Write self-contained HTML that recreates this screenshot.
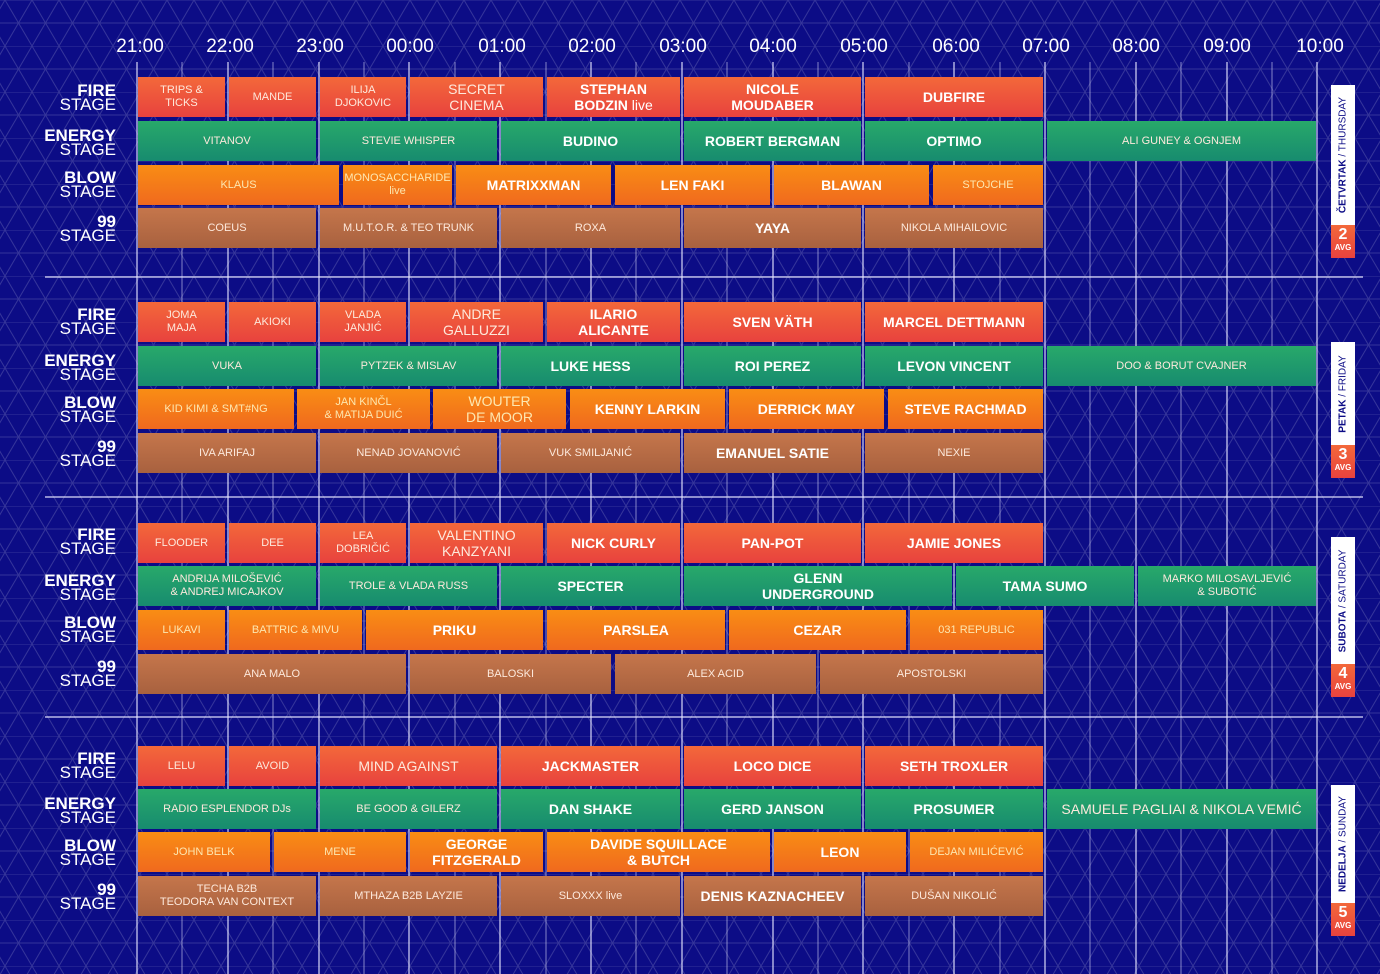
<!DOCTYPE html>
<html><head><meta charset="utf-8"><style>
body{margin:0;width:1380px;height:974px;overflow:hidden;background:#0c0c86;font-family:"Liberation Sans",sans-serif;position:relative}
svg.bg{position:absolute;left:0;top:0}
.t{position:absolute;top:36px;color:#fff;font-size:19px;width:70px;margin-left:-35px;text-align:center}
.s{position:absolute;left:0;width:116px;text-align:right;color:#fff;font-size:17px;line-height:14px}
.s b{display:block}
.b{position:absolute;height:40px;display:flex;align-items:center;justify-content:center;text-align:center;color:#fde9dc;font-size:11px;line-height:13px;box-sizing:border-box}
.f{background:linear-gradient(#f3683a,#e8423e)}
.e{background:linear-gradient(#28a96a,#178b6f)}
.w{background:linear-gradient(#f98d14,#f0691e);color:#fde7b0}
.n{background:linear-gradient(#c5764b,#a8613f)}
.B{font-weight:bold;font-size:14px;color:#fff;line-height:16px}
.M{font-size:14px;line-height:16px}
.d{position:absolute;left:1331px;width:24px;background:#fff}
.d span{position:absolute;left:50%;top:50%;transform:translate(-50%,-50%) rotate(-90deg);white-space:nowrap;font-size:10px;color:#0c0c86}
.r{position:absolute;left:1331px;width:24px;height:33px;background:linear-gradient(#f3683a,#e8423e);color:#fff;text-align:center;font-weight:bold;font-size:16px;line-height:16px;padding-top:2px;box-sizing:border-box}
.r i{display:block;font-style:normal;font-size:8px;line-height:9px}
</style></head><body>
<svg class="bg" width="1380" height="974">
<defs><pattern id="p" width="27" height="46" patternUnits="userSpaceOnUse" x="5" y="0">
<g stroke="rgba(255,255,255,0.17)" stroke-width="1" fill="none"><path d="M0 0H27M0 23H27M0 0L27 46M27 0L0 46"/></g></pattern></defs>
<rect width="1380" height="974" fill="url(#p)"/>
<g stroke="rgba(230,230,255,0.75)" stroke-width="1.5">
<line x1="137" y1="62" x2="137" y2="974"/><line x1="228" y1="62" x2="228" y2="974"/><line x1="319" y1="62" x2="319" y2="974"/><line x1="409" y1="62" x2="409" y2="974"/><line x1="500" y1="62" x2="500" y2="974"/><line x1="591" y1="62" x2="591" y2="974"/><line x1="682" y1="62" x2="682" y2="974"/><line x1="773" y1="62" x2="773" y2="974"/><line x1="863" y1="62" x2="863" y2="974"/><line x1="954" y1="62" x2="954" y2="974"/><line x1="1045" y1="62" x2="1045" y2="974"/><line x1="1136" y1="62" x2="1136" y2="974"/><line x1="1227" y1="62" x2="1227" y2="974"/><line x1="1317" y1="62" x2="1317" y2="974"/>
</g>
<g stroke="rgba(230,230,255,0.55)" stroke-width="1">
<line x1="182" y1="62" x2="182" y2="974"/><line x1="273" y1="62" x2="273" y2="974"/><line x1="364" y1="62" x2="364" y2="974"/><line x1="455" y1="62" x2="455" y2="974"/><line x1="546" y1="62" x2="546" y2="974"/><line x1="636" y1="62" x2="636" y2="974"/><line x1="727" y1="62" x2="727" y2="974"/><line x1="818" y1="62" x2="818" y2="974"/><line x1="909" y1="62" x2="909" y2="974"/><line x1="1000" y1="62" x2="1000" y2="974"/><line x1="1090" y1="62" x2="1090" y2="974"/><line x1="1181" y1="62" x2="1181" y2="974"/><line x1="1272" y1="62" x2="1272" y2="974"/>
</g>
<g stroke="rgba(230,230,255,0.8)" stroke-width="1.5"><line x1="45" y1="277" x2="1363" y2="277"/><line x1="45" y1="497" x2="1363" y2="497"/><line x1="45" y1="717" x2="1363" y2="717"/></g>
</svg>
<div class="t" style="left:140px">21:00</div><div class="t" style="left:230px">22:00</div><div class="t" style="left:320px">23:00</div><div class="t" style="left:410px">00:00</div><div class="t" style="left:502px">01:00</div><div class="t" style="left:592px">02:00</div><div class="t" style="left:683px">03:00</div><div class="t" style="left:773px">04:00</div><div class="t" style="left:864px">05:00</div><div class="t" style="left:956px">06:00</div><div class="t" style="left:1046px">07:00</div><div class="t" style="left:1136px">08:00</div><div class="t" style="left:1227px">09:00</div><div class="t" style="left:1320px">10:00</div>

<div class="s" style="top:84px"><b>FIRE</b>STAGE</div><div class="s" style="top:129px"><b>ENERGY</b>STAGE</div><div class="s" style="top:171px"><b>BLOW</b>STAGE</div><div class="s" style="top:215px"><b>99</b>STAGE</div>
<div class="s" style="top:308px"><b>FIRE</b>STAGE</div><div class="s" style="top:354px"><b>ENERGY</b>STAGE</div><div class="s" style="top:396px"><b>BLOW</b>STAGE</div><div class="s" style="top:440px"><b>99</b>STAGE</div>
<div class="s" style="top:528px"><b>FIRE</b>STAGE</div><div class="s" style="top:574px"><b>ENERGY</b>STAGE</div><div class="s" style="top:616px"><b>BLOW</b>STAGE</div><div class="s" style="top:660px"><b>99</b>STAGE</div>
<div class="s" style="top:752px"><b>FIRE</b>STAGE</div><div class="s" style="top:797px"><b>ENERGY</b>STAGE</div><div class="s" style="top:839px"><b>BLOW</b>STAGE</div><div class="s" style="top:883px"><b>99</b>STAGE</div>

<!-- Day 1 -->
<div class="b f" style="top:77px;left:138px;width:87px">TRIPS &amp;<br>TICKS</div>
<div class="b f" style="top:77px;left:229px;width:87px">MANDE</div>
<div class="b f" style="top:77px;left:320px;width:86px">ILIJA<br>DJOKOVIC</div>
<div class="b f M" style="top:77px;left:410px;width:133px">SECRET<br>CINEMA</div>
<div class="b f B" style="top:77px;left:547px;width:133px"><div>STEPHAN<br>BODZIN <span style="font-weight:normal">live</span></div></div>
<div class="b f B" style="top:77px;left:684px;width:177px">NICOLE<br>MOUDABER</div>
<div class="b f B" style="top:77px;left:865px;width:178px">DUBFIRE</div>
<div class="b e" style="top:121px;left:138px;width:178px">VITANOV</div>
<div class="b e" style="top:121px;left:320px;width:177px">STEVIE WHISPER</div>
<div class="b e B" style="top:121px;left:501px;width:179px">BUDINO</div>
<div class="b e B" style="top:121px;left:684px;width:177px">ROBERT BERGMAN</div>
<div class="b e B" style="top:121px;left:865px;width:178px">OPTIMO</div>
<div class="b e" style="top:121px;left:1047px;width:269px">ALI GUNEY &amp; OGNJEM</div>
<div class="b w" style="top:165px;left:138px;width:201px">KLAUS</div>
<div class="b w" style="top:165px;left:343px;width:109px">MONOSACCHARIDE<br>live</div>
<div class="b w B" style="top:165px;left:456px;width:155px">MATRIXXMAN</div>
<div class="b w B" style="top:165px;left:615px;width:155px">LEN FAKI</div>
<div class="b w B" style="top:165px;left:774px;width:155px">BLAWAN</div>
<div class="b w" style="top:165px;left:933px;width:110px">STOJCHE</div>
<div class="b n" style="top:208px;left:138px;width:178px">COEUS</div>
<div class="b n" style="top:208px;left:320px;width:177px">M.U.T.O.R. &amp; TEO TRUNK</div>
<div class="b n" style="top:208px;left:501px;width:179px">ROXA</div>
<div class="b n B" style="top:208px;left:684px;width:177px">YAYA</div>
<div class="b n" style="top:208px;left:865px;width:178px">NIKOLA MIHAILOVIC</div>

<!-- Day 2 -->
<div class="b f" style="top:302px;left:138px;width:87px">JOMA<br>MAJA</div>
<div class="b f" style="top:302px;left:229px;width:87px">AKIOKI</div>
<div class="b f" style="top:302px;left:320px;width:86px">VLADA<br>JANJIĆ</div>
<div class="b f M" style="top:302px;left:410px;width:133px">ANDRE<br>GALLUZZI</div>
<div class="b f B" style="top:302px;left:547px;width:133px">ILARIO<br>ALICANTE</div>
<div class="b f B" style="top:302px;left:684px;width:177px">SVEN VÄTH</div>
<div class="b f B" style="top:302px;left:865px;width:178px">MARCEL DETTMANN</div>
<div class="b e" style="top:346px;left:138px;width:178px">VUKA</div>
<div class="b e" style="top:346px;left:320px;width:177px">PYTZEK &amp; MISLAV</div>
<div class="b e B" style="top:346px;left:501px;width:179px">LUKE HESS</div>
<div class="b e B" style="top:346px;left:684px;width:177px">ROI PEREZ</div>
<div class="b e B" style="top:346px;left:865px;width:178px">LEVON VINCENT</div>
<div class="b e" style="top:346px;left:1047px;width:269px">DOO &amp; BORUT CVAJNER</div>
<div class="b w" style="top:389px;left:138px;width:156px">KID KIMI &amp; SMT#NG</div>
<div class="b w" style="top:389px;left:297px;width:133px">JAN KINČL<br>&amp; MATIJA DUIĆ</div>
<div class="b w M" style="top:389px;left:433px;width:133px">WOUTER<br>DE MOOR</div>
<div class="b w B" style="top:389px;left:570px;width:155px">KENNY LARKIN</div>
<div class="b w B" style="top:389px;left:729px;width:155px">DERRICK MAY</div>
<div class="b w B" style="top:389px;left:888px;width:155px">STEVE RACHMAD</div>
<div class="b n" style="top:433px;left:138px;width:178px">IVA ARIFAJ</div>
<div class="b n" style="top:433px;left:320px;width:177px">NENAD JOVANOVIĆ</div>
<div class="b n" style="top:433px;left:501px;width:179px">VUK SMILJANIĆ</div>
<div class="b n B" style="top:433px;left:684px;width:177px">EMANUEL SATIE</div>
<div class="b n" style="top:433px;left:865px;width:178px">NEXIE</div>

<!-- Day 3 -->
<div class="b f" style="top:523px;left:138px;width:87px">FLOODER</div>
<div class="b f" style="top:523px;left:229px;width:87px">DEE</div>
<div class="b f" style="top:523px;left:320px;width:86px">LEA<br>DOBRIČIĆ</div>
<div class="b f M" style="top:523px;left:410px;width:133px">VALENTINO<br>KANZYANI</div>
<div class="b f B" style="top:523px;left:547px;width:133px">NICK CURLY</div>
<div class="b f B" style="top:523px;left:684px;width:177px">PAN-POT</div>
<div class="b f B" style="top:523px;left:865px;width:178px">JAMIE JONES</div>
<div class="b e" style="top:566px;left:138px;width:178px">ANDRIJA MILOŠEVIĆ<br>&amp; ANDREJ MICAJKOV</div>
<div class="b e" style="top:566px;left:320px;width:177px">TROLE &amp; VLADA RUSS</div>
<div class="b e B" style="top:566px;left:501px;width:179px">SPECTER</div>
<div class="b e B" style="top:566px;left:684px;width:268px">GLENN<br>UNDERGROUND</div>
<div class="b e B" style="top:566px;left:956px;width:178px">TAMA SUMO</div>
<div class="b e" style="top:566px;left:1138px;width:178px">MARKO MILOSAVLJEVIĆ<br>&amp; SUBOTIĆ</div>
<div class="b w" style="top:610px;left:138px;width:87px">LUKAVI</div>
<div class="b w" style="top:610px;left:229px;width:133px">BATTRIC &amp; MIVU</div>
<div class="b w B" style="top:610px;left:366px;width:177px">PRIKU</div>
<div class="b w B" style="top:610px;left:547px;width:178px">PARSLEA</div>
<div class="b w B" style="top:610px;left:729px;width:177px">CEZAR</div>
<div class="b w" style="top:610px;left:910px;width:133px">031 REPUBLIC</div>
<div class="b n" style="top:654px;left:138px;width:268px">ANA MALO</div>
<div class="b n" style="top:654px;left:410px;width:201px">BALOSKI</div>
<div class="b n" style="top:654px;left:615px;width:201px">ALEX ACID</div>
<div class="b n" style="top:654px;left:820px;width:223px">APOSTOLSKI</div>

<!-- Day 4 -->
<div class="b f" style="top:746px;left:138px;width:87px">LELU</div>
<div class="b f" style="top:746px;left:229px;width:87px">AVOID</div>
<div class="b f M" style="top:746px;left:320px;width:177px">MIND AGAINST</div>
<div class="b f B" style="top:746px;left:501px;width:179px">JACKMASTER</div>
<div class="b f B" style="top:746px;left:684px;width:177px">LOCO DICE</div>
<div class="b f B" style="top:746px;left:865px;width:178px">SETH TROXLER</div>
<div class="b e" style="top:789px;left:138px;width:178px">RADIO ESPLENDOR DJs</div>
<div class="b e" style="top:789px;left:320px;width:177px">BE GOOD &amp; GILERZ</div>
<div class="b e B" style="top:789px;left:501px;width:179px">DAN SHAKE</div>
<div class="b e B" style="top:789px;left:684px;width:177px">GERD JANSON</div>
<div class="b e B" style="top:789px;left:865px;width:178px">PROSUMER</div>
<div class="b e M" style="top:789px;left:1047px;width:269px">SAMUELE PAGLIAI &amp; NIKOLA VEMIĆ</div>
<div class="b w" style="top:832px;left:138px;width:132px">JOHN BELK</div>
<div class="b w" style="top:832px;left:274px;width:132px">MENE</div>
<div class="b w B" style="top:832px;left:410px;width:133px">GEORGE<br>FITZGERALD</div>
<div class="b w B" style="top:832px;left:547px;width:223px">DAVIDE SQUILLACE<br>&amp; BUTCH</div>
<div class="b w B" style="top:832px;left:774px;width:132px">LEON</div>
<div class="b w" style="top:832px;left:910px;width:133px">DEJAN MILIĆEVIĆ</div>
<div class="b n" style="top:876px;left:138px;width:178px">TECHA B2B<br>TEODORA VAN CONTEXT</div>
<div class="b n" style="top:876px;left:320px;width:177px">MTHAZA B2B LAYZIE</div>
<div class="b n" style="top:876px;left:501px;width:179px">SLOXXX live</div>
<div class="b n B" style="top:876px;left:684px;width:177px">DENIS KAZNACHEEV</div>
<div class="b n" style="top:876px;left:865px;width:178px">DUŠAN NIKOLIĆ</div>

<div class="d" style="top:85px;height:140px"><span><b>ČETVRTAK</b> / THURSDAY</span></div><div class="r" style="top:225px">2<i>AVG</i></div>
<div class="d" style="top:342px;height:103px"><span><b>PETAK</b> / FRIDAY</span></div><div class="r" style="top:445px">3<i>AVG</i></div>
<div class="d" style="top:537px;height:127px"><span><b>SUBOTA</b> / SATURDAY</span></div><div class="r" style="top:664px">4<i>AVG</i></div>
<div class="d" style="top:785px;height:118px"><span><b>NEDELJA</b> / SUNDAY</span></div><div class="r" style="top:903px">5<i>AVG</i></div>
</body></html>
